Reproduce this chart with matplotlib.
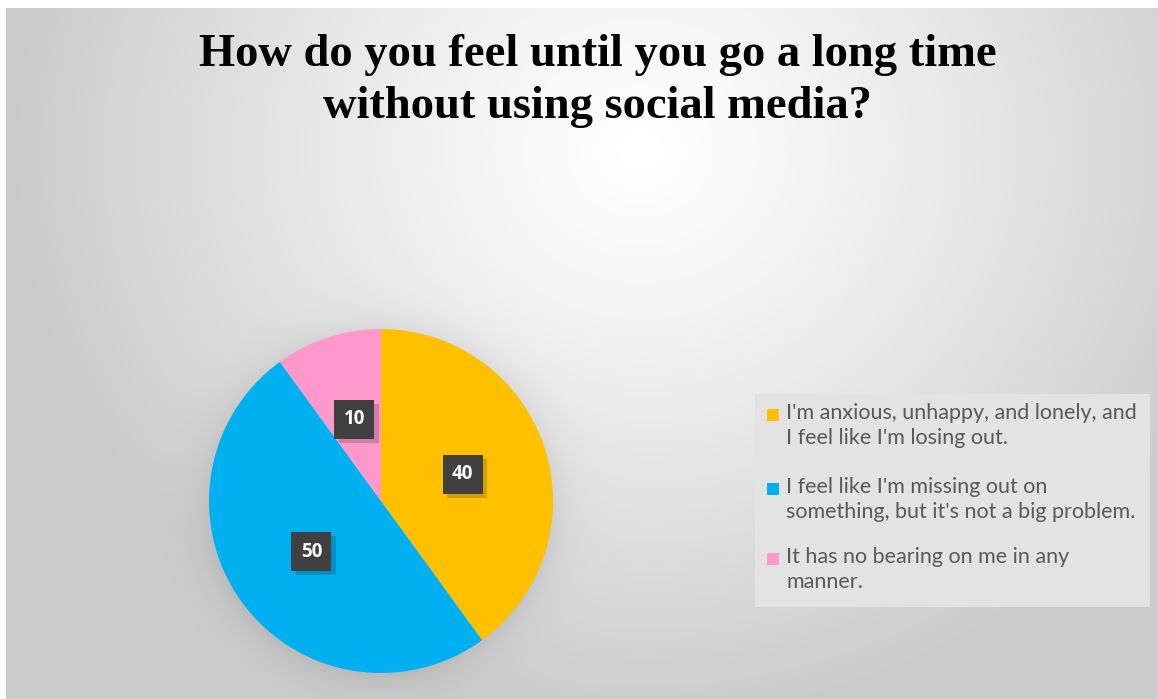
import numpy as np
import matplotlib
matplotlib.use("Agg")
import matplotlib.pyplot as plt
from matplotlib.patches import Rectangle
import matplotlib.patheffects as pe

W, H = 1158, 699

title = "How do you feel until you go a long time\nwithout using social media?"
answers = [
    "I'm anxious, unhappy, and lonely, and\nI feel like I'm losing out.",
    "I feel like I'm missing out on\nsomething, but it's not a big problem.",
    "It has no bearing on me in any\nmanner.",
]
counts = [40, 50, 10]
colors = ["#FFC000", "#00B0F0", "#FF99CC"]

fig = plt.figure(figsize=(W / 100, H / 100), dpi=100)
fig.patch.set_facecolor("white")


def fx(px):
    return px / W


def fy(py):
    # pixel rows counted from the top
    return 1 - py / H


# radial grey background with a soft shadow round the pie
bg = fig.add_axes([fx(6), 0, 1 - fx(6), fy(8)])
yy, xx = np.mgrid[8:H, 6:W].astype(float)
d = np.hypot(xx - 640, (yy - 150) * 1.1)
v = 1 - 0.2 * np.clip(d / 620, 0, 1) ** 1.2
dp = np.hypot(xx - 381, yy - 503)
v -= 0.07 * np.exp(-np.clip(dp - 170, 0, None) / 18) * (dp > 160)
img = np.dstack([v, v, v])
bg.imshow(img, aspect="auto", interpolation="bilinear")
bg.axis("off")

fig.text(0.516, fy(34), title, ha="center", va="top", fontsize=33.5,
         fontweight="bold", family="Liberation Serif", linespacing=1.32)

# pie
r = 172
ax = fig.add_axes([fx(381 - r), fy(501 + r), 2 * r / W, 2 * r / H])
wedges, _, autotexts = ax.pie(
    counts, colors=colors, startangle=90, counterclock=False,
    autopct=lambda p: f"{p * sum(counts) / 100:.0f}", pctdistance=0.5,
    wedgeprops=dict(linewidth=0),
)
ax.set_xlim(-1, 1)
ax.set_ylim(-1, 1)
ax.set_aspect("equal")

for t in autotexts:
    t.set_fontsize(13.5)
    t.set_fontweight("bold")
    t.set_family("Open Sans")
    t.set_color("white")
    t.set_bbox(dict(boxstyle="square,pad=0.5", facecolor="#404040",
                    edgecolor="none"))
    t.get_bbox_patch().set_path_effects([
        pe.SimplePatchShadow(offset=(3, -3), shadow_rgbFace="black",
                             alpha=0.18),
        pe.Normal(),
    ])

# legend box
fig.patches.append(Rectangle((fx(755), fy(607)), fx(1150 - 755),
                             (607 - 394) / H, transform=fig.transFigure,
                             facecolor="#e3e3e3", edgecolor="none", zorder=1))
rows = [413, 487, 557]
for lab, col, y in zip(answers, colors, rows):
    fig.patches.append(Rectangle((fx(767), fy(y + 8)), fx(12), 12 / H,
                                 transform=fig.transFigure, facecolor=col,
                                 edgecolor="none", zorder=2))
    fig.text(fx(786), fy(y - 10), lab, ha="left", va="top", fontsize=15.5,
             family="Lato", color="#595959", linespacing=1.3, zorder=3)

fig.savefig("out.png", dpi=100)
